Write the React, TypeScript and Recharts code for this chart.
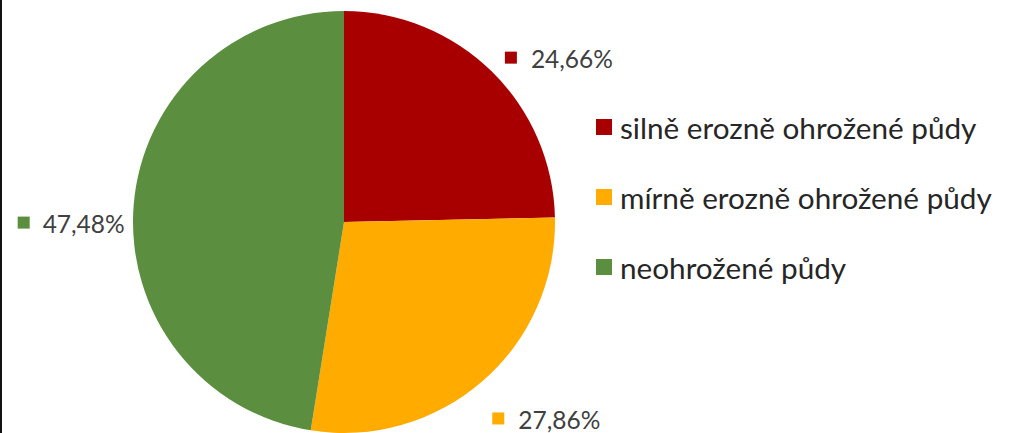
import { PieChart, Pie, Cell, Legend } from 'recharts';

// Soil erosion risk shares (%)
const CATEGORIES = ['silně erozně ohrožené půdy', 'mírně erozně ohrožené půdy', 'neohrožené půdy'];
const SHARES = [24.66, 27.86, 47.48];
const SHARE_LABELS = ['24,66%', '27,86%', '47,48%'];

const COLORS = ['#A80000', '#FFAB00', '#5B8E3E'];
// radial extra distance + nudge for each data label (Excel "best fit" look)
const LABEL_NUDGE = [
  { r: 19, dx: 0, dy: 0 },
  { r: 39, dx: -16, dy: 8 },
  { r: 9, dx: 0, dy: 18 },
];

const FONT = 'Lato, "Open Sans", sans-serif';
const RAD = Math.PI / 180;

const data = CATEGORIES.map((name, i) => ({ name, value: SHARES[i], label: SHARE_LABELS[i] }));

const renderLabel = ({ cx, cy, midAngle, outerRadius, index }: any) => {
  const n = LABEL_NUDGE[index];
  const r = outerRadius + n.r;
  const x = cx + r * Math.cos(-midAngle * RAD) + n.dx;
  const y = cy + r * Math.sin(-midAngle * RAD) + n.dy;
  const right = x > cx;
  if (right) {
    return (
      <g key={`lbl-${index}`}>
        <rect x={x} y={y - 6} width={12} height={12} fill={COLORS[index]} />
        <text x={x + 26} y={y + 1} fill="#404040" fontSize={24.5} fontFamily={FONT} dominantBaseline="central">
          {SHARE_LABELS[index]}
        </text>
      </g>
    );
  }
  return (
    <g key={`lbl-${index}`}>
      <rect x={x - 107} y={y - 6} width={12} height={12} fill={COLORS[index]} />
      <text x={x} y={y + 1} fill="#404040" fontSize={24.5} fontFamily={FONT} dominantBaseline="central" textAnchor="end">
        {SHARE_LABELS[index]}
      </text>
    </g>
  );
};

const CustomLegend = () => (
  <div style={{ fontFamily: FONT }}>
    {CATEGORIES.map((name, i) => (
      <div key={name} style={{ display: 'flex', alignItems: 'center', height: 70 }}>
        <div style={{ width: 16, height: 16, background: COLORS[i], marginRight: 8 }} />
        <span style={{ fontSize: 29.7, color: '#262626', whiteSpace: 'nowrap' }}>{name}</span>
      </div>
    ))}
  </div>
);

export default function App() {
  return (
    <div
      style={{
        position: 'fixed',
        left: 0,
        top: 0,
        width: 1013,
        height: 433,
        background: '#fff',
        borderLeft: '2px solid #111',
        boxSizing: 'border-box',
        overflow: 'hidden',
      }}
    >
      <div style={{ position: 'absolute', left: -2, top: 0 }}>
        <PieChart width={1013} height={433} margin={{ top: 0, right: 0, bottom: 0, left: 0 }}>
          <Pie
            data={data}
            dataKey="value"
            nameKey="name"
            cx={344}
            cy={222}
            outerRadius={211}
            startAngle={90}
            endAngle={-270}
            stroke="none"
            label={renderLabel}
            labelLine={false}
            isAnimationActive={false}
          >
            {data.map((d, i) => (
              <Cell key={d.name} fill={COLORS[i]} />
            ))}
          </Pie>
          <Legend
            layout="vertical"
            content={<CustomLegend />}
            wrapperStyle={{ left: 596, top: 92, width: 420 }}
          />
        </PieChart>
      </div>
    </div>
  );
}
